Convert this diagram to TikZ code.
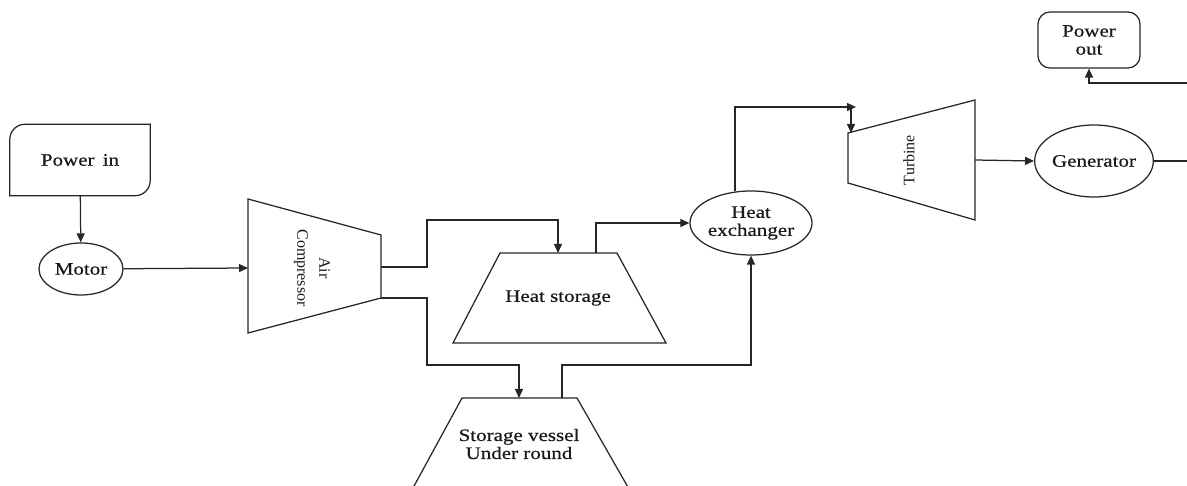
\documentclass[tikz,border=0pt]{standalone}
\usepackage{fontspec}
\setmainfont{Liberation Serif}
\newfontfamily\widefont[FakeStretch=1.2,FakeBold=0.6]{Liberation Serif}
\usetikzlibrary{shapes.geometric,arrows.meta}
\begin{document}
\begin{tikzpicture}[x=1pt,y=-1pt,
  line/.style={draw=black!85, line width=1.25pt},
  arr/.style={line, -{Triangle[length=9pt,width=8pt]}},
  lbl/.style={font=\widefont\fontsize{17.5}{18}\selectfont, align=center, text=black!90},
  vlbl/.style={font=\fontsize{16}{22}\selectfont, align=center, text=black!90},
  oval/.style={ellipse, line, inner sep=0pt, lbl},
]
\useasboundingbox (0,0) rectangle (1187,486);
\clip (0,0) rectangle (1187,486);

% input block: rounded top-left and bottom-right corners
\node[lbl, minimum width=140pt, minimum height=71pt] (pin) at (80,160) {Power\, in};
\draw[line, rounded corners=15pt, line cap=rect] (pin.south west) -- (pin.north west) -- (pin.north east);
\draw[line, rounded corners=15pt, line cap=rect] (pin.north east) -- (pin.south east) -- (pin.south west);

% output block
\node[lbl, line, rounded corners=12pt, minimum width=102pt, minimum height=56pt] (pout) at (1089,40) {Power\\out};

% round components
\node[oval, minimum width=84pt, minimum height=52pt] (motor) at (81,269) {Motor};
\node[oval, minimum width=116pt, minimum height=64pt] (hx) at (751,223) {Heat\\exchanger};
\node[oval, minimum width=112pt, minimum height=72pt] (gen) at (1094,161) {Generator};

% air compressor
\draw[line] (248,199) -- (381,235) -- (381,298) -- (248,333) -- cycle;
\node[vlbl, rotate=-90] (comp) at (312,268) {Air\\Compressor};
\coordinate (compIn) at (248,268);
\coordinate (compU) at (381,267);
\coordinate (compL) at (381,298);

% turbine
\draw[line] (848,133) -- (975,100) -- (975,220) -- (848,183) -- cycle;
\node[vlbl, rotate=90] (turb) at (909,160) {Turbine};
\coordinate (tJoin) at (851,107);
\coordinate (tIn) at (856,107);
\coordinate (tEnt) at (851,133);
\coordinate (tOut) at (975,160);

% heat storage
\draw[line] (500,253) -- (617,253) -- (666,343) -- (453,343) -- cycle;
\node[lbl] (hs) at (558,298) {Heat storage};
\coordinate (hsA) at (558,253);
\coordinate (hsB) at (596,253);

% underground storage vessel
\draw[line] (462,398) -- (577,398) -- (641,510) -- (401,510) -- cycle;
\node[lbl] (sv) at (519,444) {Storage vessel\\Under round};
\coordinate (svA) at (519,398);
\coordinate (svB) at (562,398);

% free ends at the right border
\coordinate (gOut) at (1187,161);
\coordinate (pEnd) at (1187,83);

% connectors
\draw[arr] (pin) -- (motor);
\draw[arr] (motor) -- (compIn);
\draw[arr] (compU) -- (427,267) |- (558,220) -- (hsA);
\draw[arr] (compL) -- (427,298) |- (519,365) -- (svA);
\draw[arr] (hsB) |- (hx.west);
\draw[arr] (svB) -- (562,365) -| (hx.south);
\draw[arr] (hx.117) |- (tIn);
\draw[arr] (tJoin) -- (tEnt);
\draw[arr] (tOut) -- (gen.west);
\draw[line] (gen.east) -- (gOut);
\draw[arr] (pEnd) -| (pout.south);
\end{tikzpicture}
\end{document}
